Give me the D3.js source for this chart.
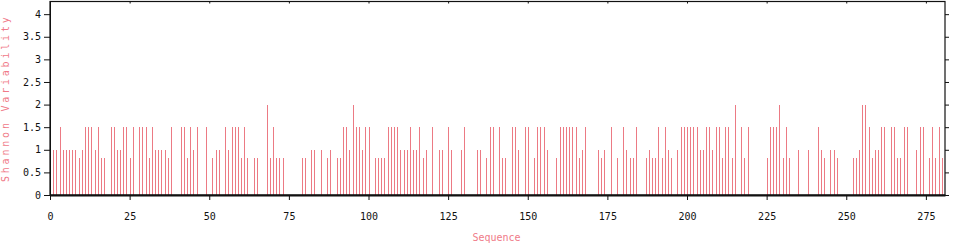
<!DOCTYPE html>
<html>
<head>
<meta charset="utf-8">
<script src="https://cdn.jsdelivr.net/npm/d3@7"></script>
<style>
  html, body { margin: 0; padding: 0; background: #fff; }
  svg { display: block; }
</style>
</head>
<body>
<svg id="chart" width="956" height="246"></svg>
<script>
// Shannon variability per sequence position (positions 1..281)
const variability = [
  1, 1, 1.5, 1, 1, 1, 1, 1, 0.81, 1,
  1.5, 1.5, 1.5, 1, 1.5, 0.81, 0.81, 0, 1.5, 1.5,
  1, 1, 1.5, 1.5, 0.81, 1.5, 0, 1.5, 1.5, 1.5,
  0.81, 1.5, 1, 1, 1, 1, 0.81, 1.5, 0, 0,
  1.5, 1.5, 0.81, 1.5, 1, 1.5, 0, 0, 1.5, 0,
  0.81, 1, 1, 0, 1.5, 1, 1.5, 1.5, 1.5, 0.81,
  1.5, 0.81, 0, 0.81, 0.81, 0, 0, 2, 0.81, 1.5,
  0.81, 0.81, 0.81, 0, 0, 0, 0, 0, 0.81, 0.81,
  0, 1, 1, 0, 1, 0, 0.81, 1, 0, 0.81,
  0.81, 1.5, 1.5, 1, 2, 1.5, 1.5, 1, 1.5, 1.5,
  0, 0.81, 0.81, 0.81, 0.81, 1.5, 1.5, 1.5, 1.5, 1,
  1, 1, 1.5, 1, 1, 1.5, 0.81, 1, 0, 1.5,
  0, 1, 1, 0, 1.5, 1, 0, 0, 1, 1.5,
  0, 0, 0, 1, 1, 0, 0.81, 1.5, 1.5, 0,
  1.5, 0.81, 0.81, 0, 1.5, 1.5, 1, 0, 1.5, 1.5,
  0, 0.81, 1.5, 1.5, 1.5, 1, 0, 0, 0.81, 1.5,
  1.5, 1.5, 1.5, 1.5, 1.5, 0.81, 1, 1.5, 0, 0,
  0, 1, 0.81, 1, 0, 1.5, 0, 0.81, 0, 1.5,
  1, 0.81, 0.81, 1.5, 0, 0, 0.81, 1, 0.81, 0.81,
  1.5, 0.81, 1.5, 1, 0.81, 0, 1, 1.5, 1.5, 1.5,
  1.5, 1.5, 1.5, 1, 1, 1.5, 1.5, 1, 1.5, 1.5,
  0.81, 1.5, 1.5, 0.81, 2, 0, 1.5, 0.81, 1.5, 0,
  0, 0, 0, 0, 0.81, 1.5, 1.5, 1.5, 2, 0.81,
  1.5, 0.81, 0, 0, 1, 0, 0, 1, 0, 0,
  1.5, 1, 0.81, 0, 1, 1, 0.81, 0, 0, 0,
  0, 0.81, 0.81, 1, 2, 2, 1.5, 0.81, 1, 1,
  1.5, 1.5, 0, 1.5, 1.5, 0.81, 0.81, 1.5, 1.5, 0,
  0, 1, 1.5, 1.5, 0, 0.81, 1.5, 0.81, 1.5, 0.81,
  0
];
const xTicks = [0, 25, 50, 75, 100, 125, 150, 175, 200, 225, 250, 275];
const yTicks = [0, 0.5, 1, 1.5, 2, 2.5, 3, 3.5, 4];
const xLabel = "Sequence";
const yLabel = "Shannon Variability";

const svg = d3.select("#chart");
const mL = 50, mR = 945, mT = 1.5, mB = 195;
const x = d3.scaleLinear().domain([0, 281]).range([mL, mR]);
const y = d3.scaleLinear().domain([0, 4.28]).range([mB, mT]);

const barColor = "#ec7a84";
const labelColor = "#f07a88";
const font = "'DejaVu Sans Mono', 'Liberation Mono', monospace";

// bars
svg.append("g")
  .selectAll("line")
  .data(variability.map((v, i) => ({pos: i + 1, v})).filter(d => d.v > 0))
  .join("line")
  .attr("x1", d => Math.round(x(d.pos)) + 0.5)
  .attr("x2", d => Math.round(x(d.pos)) + 0.5)
  .attr("y1", y(0))
  .attr("y2", d => y(d.v))
  .attr("stroke", barColor)
  .attr("stroke-width", 1)
  .attr("shape-rendering", "crispEdges");

// frame
svg.append("rect")
  .attr("x", mL).attr("y", mT)
  .attr("width", mR - mL).attr("height", mB - mT)
  .attr("fill", "none").attr("stroke", "#111").attr("stroke-width", 1.2);

// bottom axis
const gx = svg.append("g")
  .attr("transform", `translate(0,${mB})`)
  .call(d3.axisBottom(x).tickValues(xTicks).tickSize(5).tickSizeOuter(0).tickFormat(d3.format("d")));
gx.select(".domain").attr("stroke", "#111").attr("stroke-width", 2);
gx.selectAll(".tick line").attr("stroke", "#111");
gx.selectAll(".tick text")
  .attr("y", 25).attr("dy", 0)
  .attr("font-family", font).attr("font-size", 10).attr("fill", "#111");

// top axis ticks
const gt = svg.append("g")
  .attr("transform", `translate(0,${mT})`)
  .call(d3.axisTop(x).tickValues(xTicks).tickSize(2).tickSizeOuter(0).tickFormat(""));
gt.select(".domain").remove();
gt.selectAll(".tick line").attr("stroke", "#111").attr("y2", 2);

// left axis
const gy = svg.append("g")
  .attr("transform", `translate(${mL},0)`)
  .call(d3.axisLeft(y).tickValues(yTicks).tickSize(6).tickSizeOuter(0).tickPadding(3).tickFormat(d3.format("")));
gy.select(".domain").attr("stroke", "#111");
gy.selectAll(".tick line").attr("stroke", "#111");
gy.selectAll(".tick text")
  .attr("font-family", font).attr("font-size", 10).attr("fill", "#111");

// right axis ticks
const gr = svg.append("g")
  .attr("transform", `translate(${mR},0)`)
  .call(d3.axisRight(y).tickValues(yTicks).tickSize(4).tickSizeOuter(0).tickFormat(""));
gr.select(".domain").remove();
gr.selectAll(".tick line").attr("stroke", "#111");

// axis labels
svg.append("text")
  .attr("x", (mL + mR) / 2 - 1).attr("y", 241)
  .attr("text-anchor", "middle")
  .attr("font-family", font).attr("font-size", 10)
  .attr("fill", labelColor)
  .text(xLabel);

svg.append("text")
  .attr("transform", `translate(9,${(mT + mB) / 2}) rotate(-90)`)
  .attr("text-anchor", "middle")
  .attr("font-family", font).attr("font-size", 10)
  .attr("letter-spacing", 2.8)
  .attr("fill", labelColor)
  .text(yLabel);
</script>
</body>
</html>
